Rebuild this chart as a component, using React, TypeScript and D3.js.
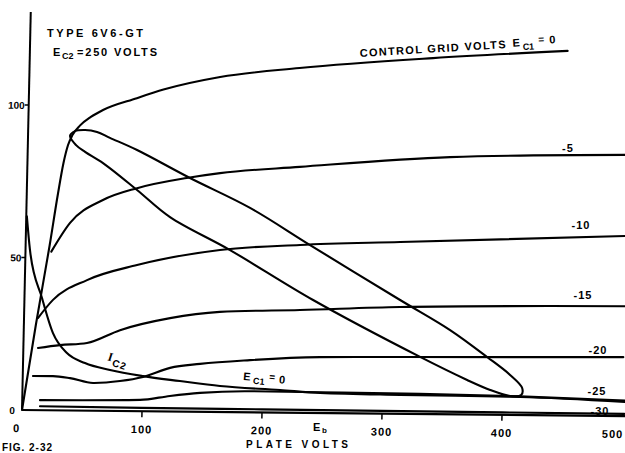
import React from "react";
import * as d3 from "d3";

type Pt = [number, number];

// Plate volts (Eb) tick values and plate-current (mA) tick values
const plateVoltTicks = [0, 100, 200, 300, 400, 500];
const currentTicks = [0, 50, 100];

// Plate current curves, [plate volts, mA], one per control grid voltage
const gridV0: Pt[] = [
  [0, 0], [10, 28], [20, 54], [26, 71], [30, 81], [33.5, 87], [37, 90.3], [43, 93.4],
  [52, 96.3], [62, 98.6], [90, 102.6], [112, 105.5], [159, 109.8], [225, 113], [336, 116.7], [448, 119.5],
];
const gridVm5: Pt[] = [
  [21.5, 52], [36.6, 61.5], [63.6, 69.1], [91.8, 73.1], [133, 76.6], [160.7, 78.3],
  [227, 80.6], [352, 84.3], [500, 85.6],
];
const gridVm10: Pt[] = [
  [11.6, 30.2], [23.8, 36.2], [51.8, 42.8], [93.2, 47.9], [162, 53.1], [228.6, 55],
  [312, 56.3], [500, 59],
];
const gridVm15: Pt[] = [
  [12.2, 20.4], [30.5, 21.4], [52.9, 22.2], [80.2, 26.5], [121.7, 30.6], [163, 32.8],
  [229.8, 33.7], [313, 35], [500, 36],
];
const gridVm20: Pt[] = [
  [8.5, 11.2], [25.2, 11.2], [39.4, 10.6], [58.7, 9.1], [81.1, 9.8], [100.2, 11.2],
  [122.6, 14.3], [147.5, 15.7], [189, 17.1], [247.3, 18.3], [314, 18.6], [500, 19.3],
];
const gridVm25: Pt[] = [
  [14.8, 3.3], [98.2, 3.7], [123, 5.1], [148, 6.2], [189.7, 6.9], [248, 6.8],
  [331, 6.6], [414.7, 6.1], [502, 5.1],
];
const gridVm30: Pt[] = [
  [14.9, 1.3], [100, 1.1], [200, 1.0], [300, 0.9], [400, 0.8], [502, 0.7],
];

// Screen-grid current Ic2 at Ec1 = 0
const screenCurrent: Pt[] = [
  [0.5, 63.5], [3.7, 52.5], [14.6, 36.8], [24.4, 25.3], [36.4, 18.8], [51.6, 15.6],
  [72.6, 13.4], [100.2, 11.5], [131, 10.0], [164.5, 8.5], [214.6, 7.4], [248, 6.6],
  [314.7, 6.2], [414.7, 5.9], [502, 4.6],
];

// Dynamic load loop (closed path)
const loadLoop: Pt[] = [
  [35.0, 90.0], [39.1, 91.6], [47.4, 92.0], [57.4, 91.4], [68.3, 89.5], [91.1, 85.6],
  [135.7, 76.6], [186.3, 67.0], [237, 55.0], [313, 37.3], [355.2, 27.6], [386.5, 18.9],
  [406, 13.1], [416.3, 8.85], [415.6, 6.55], [406.4, 6.2], [389.7, 8.1], [370.3, 11.3],
  [330.7, 18.7], [240.5, 37.0], [170.4, 53.1], [119.8, 63.7], [91.8, 72.5], [63.0, 81.2],
  [47.8, 84.8], [40.2, 87.0],
];

const gridCurves = [gridV0, gridVm5, gridVm10, gridVm15, gridVm20, gridVm25, gridVm30];
const gridCurveLabels = ["-5", "-10", "-15", "-20", "-25", "-30"];

const FONT = "'Liberation Sans', Arial, sans-serif";

export default function App() {
  const x = d3.scaleLinear().domain([0, 500]).range([0, 600]);
  const y = d3.scaleLinear().domain([0, 100]).range([0, -305]);

  const line = d3
    .line<Pt>()
    .x((d) => x(d[0]))
    .y((d) => y(d[1]))
    .curve(d3.curveMonotoneX);
  const loopLine = d3
    .line<Pt>()
    .x((d) => x(d[0]))
    .y((d) => y(d[1]))
    .curve(d3.curveCatmullRomClosed.alpha(0.5));

  // label anchor positions on the page (layout)
  const labelPos: [number, number][] = [
    [568, 152], [581, 229], [583, 299], [598, 354], [597, 395], [600, 415],
  ];

  const stroke = { fill: "none", stroke: "#000", strokeWidth: 2.1, strokeLinecap: "round" as const, strokeLinejoin: "round" as const };

  return (
    <svg
      width={625}
      height={453}
      viewBox="0 0 625 453"
      style={{ position: "absolute", left: 0, top: 0, background: "#fff" }}
    >
      <rect x={0} y={0} width={625} height={453} fill="#fff" />
      {/* plotting frame, slightly skewed like the scanned drawing */}
      <g transform="translate(22,410) matrix(1,0.01,-0.022,1,0,0)">
        {/* axes */}
        <line x1={0} y1={0} x2={x(505)} y2={0} stroke="#000" strokeWidth={2.2} />
        <line x1={0} y1={0} x2={0} y2={y(130.5)} stroke="#000" strokeWidth={2} />
        {plateVoltTicks.slice(1, 5).map((v) => (
          <line key={"xt" + v} x1={x(v)} y1={0} x2={x(v)} y2={6} stroke="#000" strokeWidth={1.5} />
        ))}
        {currentTicks.slice(1).map((v) => (
          <line key={"yt" + v} x1={-4} y1={y(v)} x2={0} y2={y(v)} stroke="#000" strokeWidth={1.5} />
        ))}
        {plateVoltTicks.map((v) => (
          <text
            key={"xl" + v}
            x={x(v) + (v === 0 ? -5 : v === 500 ? -9 : 0)}
            y={22}
            textAnchor="middle"
            fontFamily={FONT}
            fontWeight="bold"
            fontSize={11}
            letterSpacing={1}
          >
            {v}
          </text>
        ))}
        {currentTicks.map((v) => (
          <text
            key={"yl" + v}
            x={v === 0 ? -7 : -4}
            y={y(v) + 4}
            textAnchor="end"
            fontFamily={FONT}
            fontWeight="bold"
            fontSize={10}
          >
            {v}
          </text>
        ))}

        {/* curves */}
        {gridCurves.map((c, i) => (
          <path key={"g" + i} d={line(c) || ""} {...stroke} />
        ))}
        <path d={line(screenCurrent) || ""} {...stroke} />
        <path d={loopLine(loadLoop) || ""} {...stroke} />
      </g>

      {/* title */}
      <text x={47} y={37} fontFamily={FONT} fontWeight="bold" fontSize={11} textLength={96} lengthAdjust="spacing">
        TYPE 6V6-GT
      </text>
      <text x={53} y={56} fontFamily={FONT} fontWeight="bold" fontSize={11}>
        E
      </text>
      <text x={62} y={59} fontFamily={FONT} fontWeight="bold" fontSize={9}>
        C2
      </text>
      <text x={77} y={56} fontFamily={FONT} fontWeight="bold" fontSize={11} textLength={80} lengthAdjust="spacing">
        =250 VOLTS
      </text>

      {/* control grid label */}
      <g transform="translate(360,57) rotate(-3.5)">
        <text x={0} y={0} fontFamily={FONT} fontWeight="bold" fontSize={11} textLength={146} lengthAdjust="spacing">
          CONTROL GRID VOLTS
        </text>
        <text x={153} y={-1} fontFamily={FONT} fontWeight="bold" fontSize={11}>
          E
        </text>
        <text x={163} y={3} fontFamily={FONT} fontWeight="bold" fontSize={9}>
          C1
        </text>
        <text x={179} y={-3} fontFamily={FONT} fontWeight="bold" fontSize={10}>
          =
        </text>
        <text x={190} y={-2} fontFamily={FONT} fontWeight="bold" fontSize={11}>
          0
        </text>
      </g>

      {/* grid voltage labels */}
      {gridCurveLabels.map((t, i) => (
        <text
          key={"cl" + t}
          x={labelPos[i][0]}
          y={labelPos[i][1]}
          textAnchor="middle"
          fontFamily={FONT}
          fontWeight="bold"
          fontSize={11}
          letterSpacing={1}
        >
          {t}
        </text>
      ))}

      {/* Ic2 label */}
      <g transform="translate(107,360) rotate(18)">
        <text x={0} y={0} fontFamily="'Liberation Serif', serif" fontWeight="bold" fontSize={12}>
          I
        </text>
        <text x={6} y={4} fontFamily={FONT} fontWeight="bold" fontSize={10} letterSpacing={1}>
          C2
        </text>
      </g>
      {/* Ec1 = 0 label */}
      <g transform="translate(243,380) rotate(5)">
        <text x={0} y={0} fontFamily={FONT} fontWeight="bold" fontSize={11}>
          E
        </text>
        <text x={10} y={3} fontFamily={FONT} fontWeight="bold" fontSize={9}>
          C1
        </text>
        <text x={26} y={-2} fontFamily={FONT} fontWeight="bold" fontSize={10}>
          =
        </text>
        <text x={36} y={0} fontFamily={FONT} fontWeight="bold" fontSize={11}>
          0
        </text>
      </g>

      {/* axis title */}
      <text x={313} y={431} fontFamily={FONT} fontWeight="bold" fontSize={11}>
        E
      </text>
      <text x={322} y={433} fontFamily={FONT} fontWeight="bold" fontSize={8}>
        b
      </text>
      <text x={246} y={448} fontFamily={FONT} fontWeight="bold" fontSize={10} textLength={102} lengthAdjust="spacing">
        PLATE VOLTS
      </text>
      <text x={2} y={451} fontFamily={FONT} fontWeight="bold" fontSize={10} textLength={50} lengthAdjust="spacing">
        FIG. 2-32
      </text>
    </svg>
  );
}
